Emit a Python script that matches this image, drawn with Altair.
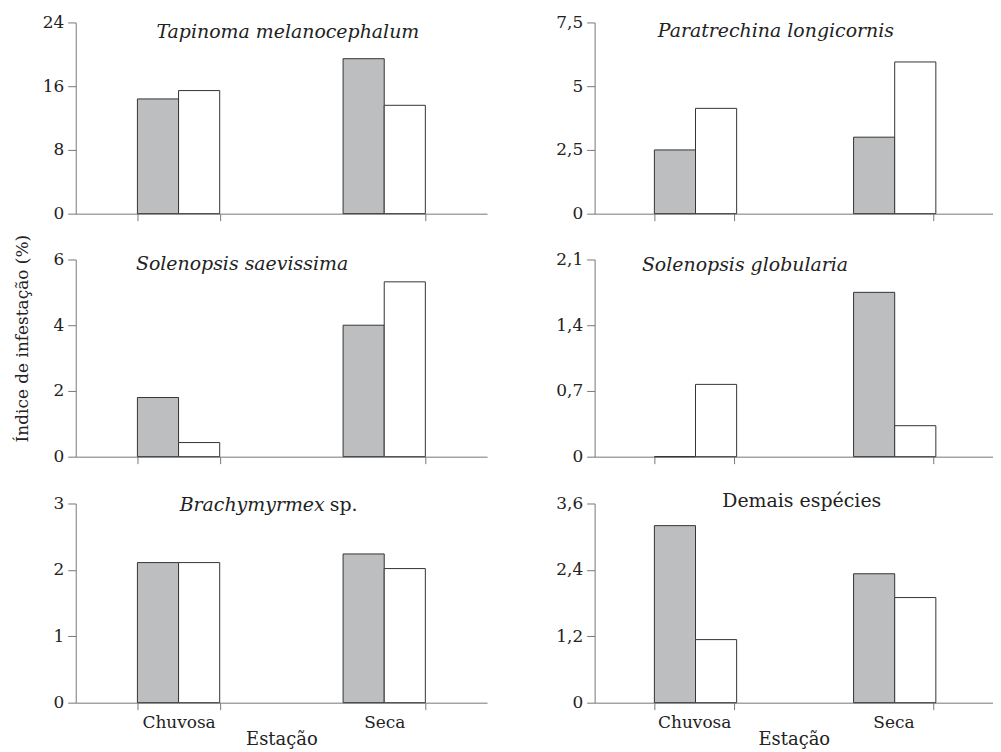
import altair as alt
import pandas as pd

FONT = "DejaVu Serif"

estacoes = ["Chuvosa", "Seca"]
grupos = ["cinza", "branco"]

# title segments: (text, italic)
titulos = [
    [("Tapinoma melanocephalum", True)],
    [("Paratrechina longicornis", True)],
    [("Solenopsis saevissima", True)],
    [("Solenopsis globularia", True)],
    [("Brachymyrmex", True), ("sp.", False)],
    [("Demais espécies", False)],
]

chuvosa_cinza = [14.4, 2.5, 1.8, 0.0, 2.11, 3.2]
chuvosa_branco = [15.45, 4.13, 0.43, 0.77, 2.11, 1.14]
seca_cinza = [19.45, 3.0, 4.0, 1.75, 2.24, 2.33]
seca_branco = [13.6, 5.95, 5.32, 0.33, 2.02, 1.9]

y_max = [24, 7.5, 6, 2.1, 3, 3.6]
y_ticks = [
    [0, 8, 16, 24],
    [0, 2.5, 5, 7.5],
    [0, 2, 4, 6],
    [0, 0.7, 1.4, 2.1],
    [0, 1, 2, 3],
    [0, 1.2, 2.4, 3.6],
]

widths = [413, 400]
heights = [192, 198, 200]
# title anchor (center x, baseline y) relative to plot origin
titulo_pos = [(213, 16), (182, 15), (167, 11), (151, 12), (194, 8), (208, 4)]
TITLE_SIZE = 19


def painel(i):
    row, col = divmod(i, 2)
    df = pd.DataFrame({
        "Estação": ["Chuvosa", "Chuvosa", "Seca", "Seca"],
        "grupo": ["cinza", "branco", "cinza", "branco"],
        "valor": [chuvosa_cinza[i], chuvosa_branco[i], seca_cinza[i], seca_branco[i]],
    })
    bottom = row == 2
    x_axis = alt.Axis(
        labels=bottom,
        title="Estação" if bottom else None,
        tickBand="extent",
        tickSize=7,
        labelAngle=0,
        labelPadding=5,
        titlePadding=0,
    )
    y_axis_kwargs = dict(values=y_ticks[i],
                         labelExpr="replace(toString(datum.value), '.', ',')")
    if i == 2:
        y_axis_kwargs.update(title="Índice de infestação (%)", titleY=79, titleX=-44,
                             titleFontSize=17)
    else:
        y_axis_kwargs.update(title=None)
    bars = alt.Chart(df).mark_bar(stroke="#333333", strokeWidth=1).encode(
        x=alt.X("Estação:N", sort=estacoes,
                scale=alt.Scale(paddingInner=0.6, paddingOuter=0.3),
                axis=x_axis),
        xOffset=alt.XOffset("grupo:N", sort=grupos,
                            scale=alt.Scale(paddingInner=0, paddingOuter=0)),
        y=alt.Y("valor:Q", scale=alt.Scale(domain=[0, y_max[i]], nice=False),
                axis=alt.Axis(**y_axis_kwargs)),
        fill=alt.Fill("grupo:N", sort=grupos,
                      scale=alt.Scale(domain=grupos, range=["#bdbec0", "#ffffff"]),
                      legend=None),
    )
    layers = [bars]
    cx, by = titulo_pos[i]
    segs = titulos[i]
    if len(segs) == 1:
        txt, it = segs[0]
        layers.append(
            alt.Chart(pd.DataFrame({"t": [txt]})).mark_text(
                font=FONT, fontSize=TITLE_SIZE, fontStyle="italic" if it else "normal",
                align="center", baseline="alphabetic", color="#222222"
            ).encode(x=alt.value(cx), y=alt.value(by), text="t:N")
        )
    else:
        (t1, _), (t2, _) = segs
        layers.append(
            alt.Chart(pd.DataFrame({"t": [t1]})).mark_text(
                font=FONT, fontSize=TITLE_SIZE, fontStyle="italic",
                align="right", baseline="alphabetic", color="#222222"
            ).encode(x=alt.value(cx + 56), y=alt.value(by), text="t:N")
        )
        layers.append(
            alt.Chart(pd.DataFrame({"t": [t2]})).mark_text(
                font=FONT, fontSize=TITLE_SIZE, fontStyle="normal",
                align="left", baseline="alphabetic", color="#222222"
            ).encode(x=alt.value(cx + 61), y=alt.value(by), text="t:N")
        )
    if bottom:
        # invisible spacer to widen the gap above the bottom row
        layers.append(
            alt.Chart(pd.DataFrame({"t": ["."]})).mark_text(
                fontSize=12, baseline="bottom", opacity=0
            ).encode(x=alt.value(0), y=alt.value(-14), text="t:N")
        )
    return alt.layer(*layers).properties(width=widths[col], height=heights[row])


chart = alt.concat(*[painel(i) for i in range(6)], columns=2, align="each",
                   spacing={"row": 12, "column": 68}).properties(
    padding={"left": 5, "top": 4, "right": 0, "bottom": 0}
).configure_view(stroke=None).configure_axis(
    labelFont=FONT, titleFont=FONT, labelFontSize=17, titleFontSize=18,
    labelColor="#222222", titleColor="#222222", titleFontWeight="normal",
    domainColor="#777777", tickColor="#777777", grid=False, tickSize=8,
    labelPadding=4,
)

chart.save("out.html", embed_options={"renderer": "svg", "actions": False})
